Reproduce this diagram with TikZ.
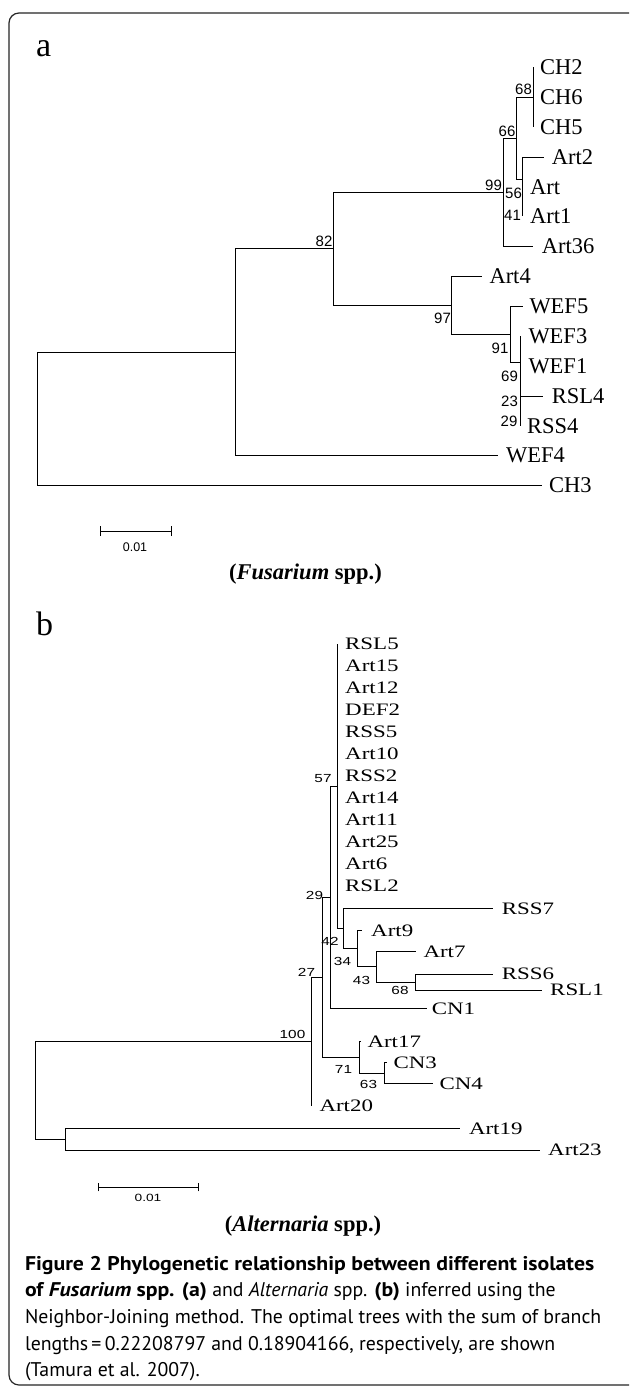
\documentclass[tikz,border=0pt]{standalone}
\usepackage{fontspec}
\usepackage{graphicx}
\setmainfont{Liberation Serif}
\newfontfamily\capfont{PT Sans}
\newfontfamily\numfont{Liberation Sans}
\newcommand{\sx}[1]{\scalebox{1.31}[1]{#1}}
\newcommand{\bx}[1]{\scalebox{1.1}[1]{\bfseries #1}}
\begin{document}
\begin{tikzpicture}[x=1pt,y=-1pt,
  branch/.style={draw=black, line width=0.9pt},
  leafa/.style={anchor=west, inner sep=0pt, font=\fontsize{22.5}{23}\selectfont},
  leafb/.style={anchor=west, inner sep=0pt, font=\fontsize{17.5}{18}\selectfont},
  suppa/.style={inner sep=0pt, font=\numfont\fontsize{15}{15}\selectfont},
  suppb/.style={inner sep=0pt, font=\numfont\fontsize{11.7}{12}\selectfont},
  panel/.style={anchor=base west, inner sep=0pt, font=\fontsize{34}{34}\selectfont},
  title/.style={anchor=base, inner sep=0pt, font=\fontsize{22.5}{23}\selectfont\bfseries},
  capline/.style={anchor=base west, inner sep=0pt, font=\capfont\fontsize{19.8}{20}\selectfont},
  scalebar/.style={draw=black, line width=0.9pt}]
\useasboundingbox (0,0) rectangle (629,1388);
\clip (0,0) rectangle (629,1388);
\fill[white] (0,0) rectangle (629,1388);
% frame
\draw[rounded corners=10pt, line width=1.2pt, black!85] (9,13) rectangle (690,1385);

% ---------------- tree a ----------------
\node[panel] (pa) at (36,56.7) {a};
% internal nodes
\coordinate (ra) at (37,418.9);
\coordinate (nw) at (235.3,352.2);
\coordinate (n82) at (333.3,248.7);
\coordinate (n99) at (503.3,192.2);
\coordinate (n66) at (516.7,138);
\coordinate (n68) at (533.3,97);
\coordinate (n56) at (522.7,179);
\coordinate (n41) at (522.7,201.5);
\coordinate (n97) at (451.7,305.2);
\coordinate (n91) at (510,334);
\coordinate (n69) at (520,362);
\coordinate (n23) at (520,388.5);
\coordinate (n29) at (520,411);
% leaves
\coordinate (CH2) at (533.3,67);
\coordinate (CH6) at (533.3,97);
\coordinate (CH5) at (533.3,127);
\coordinate (Art2) at (544,157);
\coordinate (Art) at (522.7,187);
\coordinate (Art1) at (522.7,216.5);
\coordinate (Art36) at (533.3,246.4);
\coordinate (Art4) at (481.7,276.3);
\coordinate (WEF5) at (523.3,306.2);
\coordinate (WEF3) at (520,336);
\coordinate (WEF1) at (520,366);
\coordinate (RSL4) at (543.3,396);
\coordinate (RSS4) at (520,425.8);
\coordinate (WEF4) at (498,455.7);
\coordinate (CH3) at (542,485.6);
% branches
\draw[branch] (ra) |- (nw);
\draw[branch] (ra) |- (CH3);
\draw[branch] (nw) |- (n82);
\draw[branch] (nw) |- (WEF4);
\draw[branch] (n82) |- (n99);
\draw[branch] (n82) |- (n97);
\draw[branch] (n99) |- (n66);
\draw[branch] (n99) |- (Art36);
\draw[branch] (n66) |- (n68);
\draw[branch] (n66) |- (n56);
\draw[branch] (n68) |- (CH2);
\draw[branch] (n68) |- (CH5);
\draw[branch] (n56) |- (Art2);
\draw[branch] (n56) |- (n41);
\draw[branch] (n41) |- (Art);
\draw[branch] (n41) |- (Art1);
\draw[branch] (n97) |- (Art4);
\draw[branch] (n97) |- (n91);
\draw[branch] (n91) |- (WEF5);
\draw[branch] (n91) |- (n69);
\draw[branch] (n69) |- (WEF3);
\draw[branch] (n69) |- (n23);
\draw[branch] (n23) |- (WEF1);
\draw[branch] (n23) |- (n29);
\draw[branch] (n29) |- (RSL4);
\draw[branch] (n29) |- (RSS4);
% leaf labels
\node[leafa] (tCH2) at (540,67) {CH2};
\node[leafa] (tCH6) at (540,97) {CH6};
\node[leafa] (tCH5) at (540,127) {CH5};
\node[leafa] (tArt2) at (551.7,157) {Art2};
\node[leafa] (tArt) at (530,187) {Art};
\node[leafa] (tArt1) at (530,216.5) {Art1};
\node[leafa] (tArt36) at (541.7,246.4) {Art36};
\node[leafa] (tArt4) at (489.3,276.3) {Art4};
\node[leafa] (tWEF5) at (529.3,306.2) {WEF5};
\node[leafa] (tWEF3) at (528.3,336) {WEF3};
\node[leafa] (tWEF1) at (528.3,366) {WEF1};
\node[leafa] (tRSL4) at (551.7,396) {RSL4};
\node[leafa] (tRSS4) at (527,425.8) {RSS4};
\node[leafa] (tWEF4) at (506,455.7) {WEF4};
\node[leafa] (tCH3) at (549,485.6) {CH3};
% support values
\node[suppa] (s68) at (523.5,89) {68};
\node[suppa] (s66) at (507,131.7) {66};
\node[suppa] (s99) at (493.5,185) {99};
\node[suppa] (s56) at (513.5,193) {56};
\node[suppa] (s41) at (512.5,215) {41};
\node[suppa] (s82) at (324,241) {82};
\node[suppa] (s97) at (442.5,318) {97};
\node[suppa] (s91) at (500,348) {91};
\node[suppa] (s69) at (509.5,376) {69};
\node[suppa] (s23) at (509.5,401.7) {23};
\node[suppa] (s29) at (509,421) {29};
% scale bar a
\coordinate (sa1) at (100,531);
\coordinate (sa2) at (171,531);
\draw[scalebar] (sa1) -- (sa2);
\draw[scalebar] ([yshift=-5pt]sa1) -- ([yshift=5pt]sa1);
\draw[scalebar] ([yshift=-5pt]sa2) -- ([yshift=5pt]sa2);
\node[inner sep=0pt, font=\numfont\fontsize{12.5}{13}\selectfont] (sal) at (135,546.7) {0.01};
\node[title] (ta) at (305.5,579) {(\textit{Fusarium} spp.)};

% ---------------- tree b ----------------
\node[panel] (pb) at (36,635) {b};
\coordinate (rb) at (35.5,1090.4);
\coordinate (n100) at (311,1041.7);
\coordinate (nr2) at (65.5,1139.2);
\coordinate (nB) at (322,977.4);
\coordinate (nA) at (330,897.3);
\coordinate (n57) at (337.7,786.3);
\coordinate (n42) at (343.3,928.6);
\coordinate (n34) at (357.3,948.8);
\coordinate (n43) at (376.7,966.9);
\coordinate (n68b) at (415,982);
\coordinate (n71) at (359,1057.4);
\coordinate (n63) at (384,1073);
% leaves
\coordinate (bRSL5) at (337.7,644);
\coordinate (bRSS7) at (493.3,908.3);
\coordinate (bArt9) at (361.7,930.7);
\coordinate (bArt7) at (416,951.7);
\coordinate (bRSS6) at (493.3,974);
\coordinate (bRSL1) at (541.7,990);
\coordinate (bCN1) at (426.7,1008.3);
\coordinate (bArt17) at (361,1041.7);
\coordinate (bCN3) at (387.3,1062.7);
\coordinate (bCN4) at (433.3,1083.3);
\coordinate (bArt20) at (311,1106);
\coordinate (bArt19) at (460,1128.3);
\coordinate (bArt23) at (540,1150);
% branches
\draw[branch] (rb) |- (n100);
\draw[branch] (rb) |- (nr2);
\draw[branch] (nr2) |- (bArt19);
\draw[branch] (nr2) |- (bArt23);
\draw[branch] (n100) |- (nB);
\draw[branch] (n100) |- (bArt20);
\draw[branch] (nB) |- (nA);
\draw[branch] (nB) |- (n71);
\draw[branch] (nA) |- (n57);
\draw[branch] (nA) |- (bCN1);
\draw[branch] (n57) |- (bRSL5);
\draw[branch] (n57) |- (n42);
\draw[branch] (n42) |- (bRSS7);
\draw[branch] (n42) |- (n34);
\draw[branch] (n34) |- (bArt9);
\draw[branch] (n34) |- (n43);
\draw[branch] (n43) |- (bArt7);
\draw[branch] (n43) |- (n68b);
\draw[branch] (n68b) |- (bRSS6);
\draw[branch] (n68b) |- (bRSL1);
\draw[branch] (n71) |- (bArt17);
\draw[branch] (n71) |- (n63);
\draw[branch] (n63) |- (bCN3);
\draw[branch] (n63) |- (bCN4);
% polytomy labels
\foreach \lab [count=\i from 0] in {RSL5,Art15,Art12,DEF2,RSS5,Art10,RSS2,Art14,Art11,Art25,Art6,RSL2}
  \node[leafb] (t\lab) at (345,644+22*\i) {\sx{\lab}};
\node[leafb] (tRSS7) at (501.7,908.3) {\sx{RSS7}};
\node[leafb] (tArt9) at (371,930.7) {\sx{Art9}};
\node[leafb] (tArt7) at (423.3,951.7) {\sx{Art7}};
\node[leafb] (tRSS6) at (501.7,974) {\sx{RSS6}};
\node[leafb] (tRSL1) at (550,990) {\sx{RSL1}};
\node[leafb] (tCN1) at (431.7,1008.3) {\sx{CN1}};
\node[leafb] (tArt17) at (367.3,1041.7) {\sx{Art17}};
\node[leafb] (tCN3) at (393.3,1062.7) {\sx{CN3}};
\node[leafb] (tCN4) at (439.3,1083.3) {\sx{CN4}};
\node[leafb] (tArt20) at (319.3,1106) {\sx{Art20}};
\node[leafb] (tArt19) at (468.8,1128.3) {\sx{Art19}};
\node[leafb] (tArt23) at (548,1150) {\sx{Art23}};
% support values b
\node[suppb] (u57) at (323,779) {\sx{57}};
\node[suppb] (u29) at (314.5,895) {\sx{29}};
\node[suppb] (u42) at (330,941) {\sx{42}};
\node[suppb] (u34) at (342.5,961.7) {\sx{34}};
\node[suppb] (u43) at (361.5,980) {\sx{43}};
\node[suppb] (u68) at (400,990) {\sx{68}};
\node[suppb] (u27) at (306.5,972) {\sx{27}};
\node[suppb] (u71) at (343.5,1069.3) {\sx{71}};
\node[suppb] (u63) at (368.5,1084.3) {\sx{63}};
\node[suppb] (u100) at (292.5,1034.3) {\sx{100}};
% scale bar b
\coordinate (sb1) at (98,1187.3);
\coordinate (sb2) at (198.8,1187.3);
\draw[scalebar] (sb1) -- (sb2);
\draw[scalebar] ([yshift=-4pt]sb1) -- ([yshift=4pt]sb1);
\draw[scalebar] ([yshift=-4pt]sb2) -- ([yshift=4pt]sb2);
\node[inner sep=0pt, font=\numfont\fontsize{10.5}{11}\selectfont] (sbl) at (148,1197.7) {\sx{0.01}};
\node[title] (tb) at (303,1231.7) {(\textit{Alternaria} spp.)};

% ---------------- caption ----------------
\node[capline] (c1) at (24.8,1270) {\bx{Figure 2 Phylogenetic relationship between different isolates}};
\node[capline] (c2) at (24.8,1296.7) {\bx{of \textit{Fusarium} spp. (a)} and \textit{Alternaria} spp. \bx{(b)} inferred using the};
\node[capline] (c3) at (24.8,1323.3) {Neighbor-Joining method. The optimal trees with the sum of branch};
\node[capline] (c4) at (24.8,1350) {lengths\,=\,0.22208797 and 0.18904166, respectively, are shown};
\node[capline] (c5) at (24.8,1376.7) {(Tamura et al. 2007).};
\end{tikzpicture}
\end{document}
